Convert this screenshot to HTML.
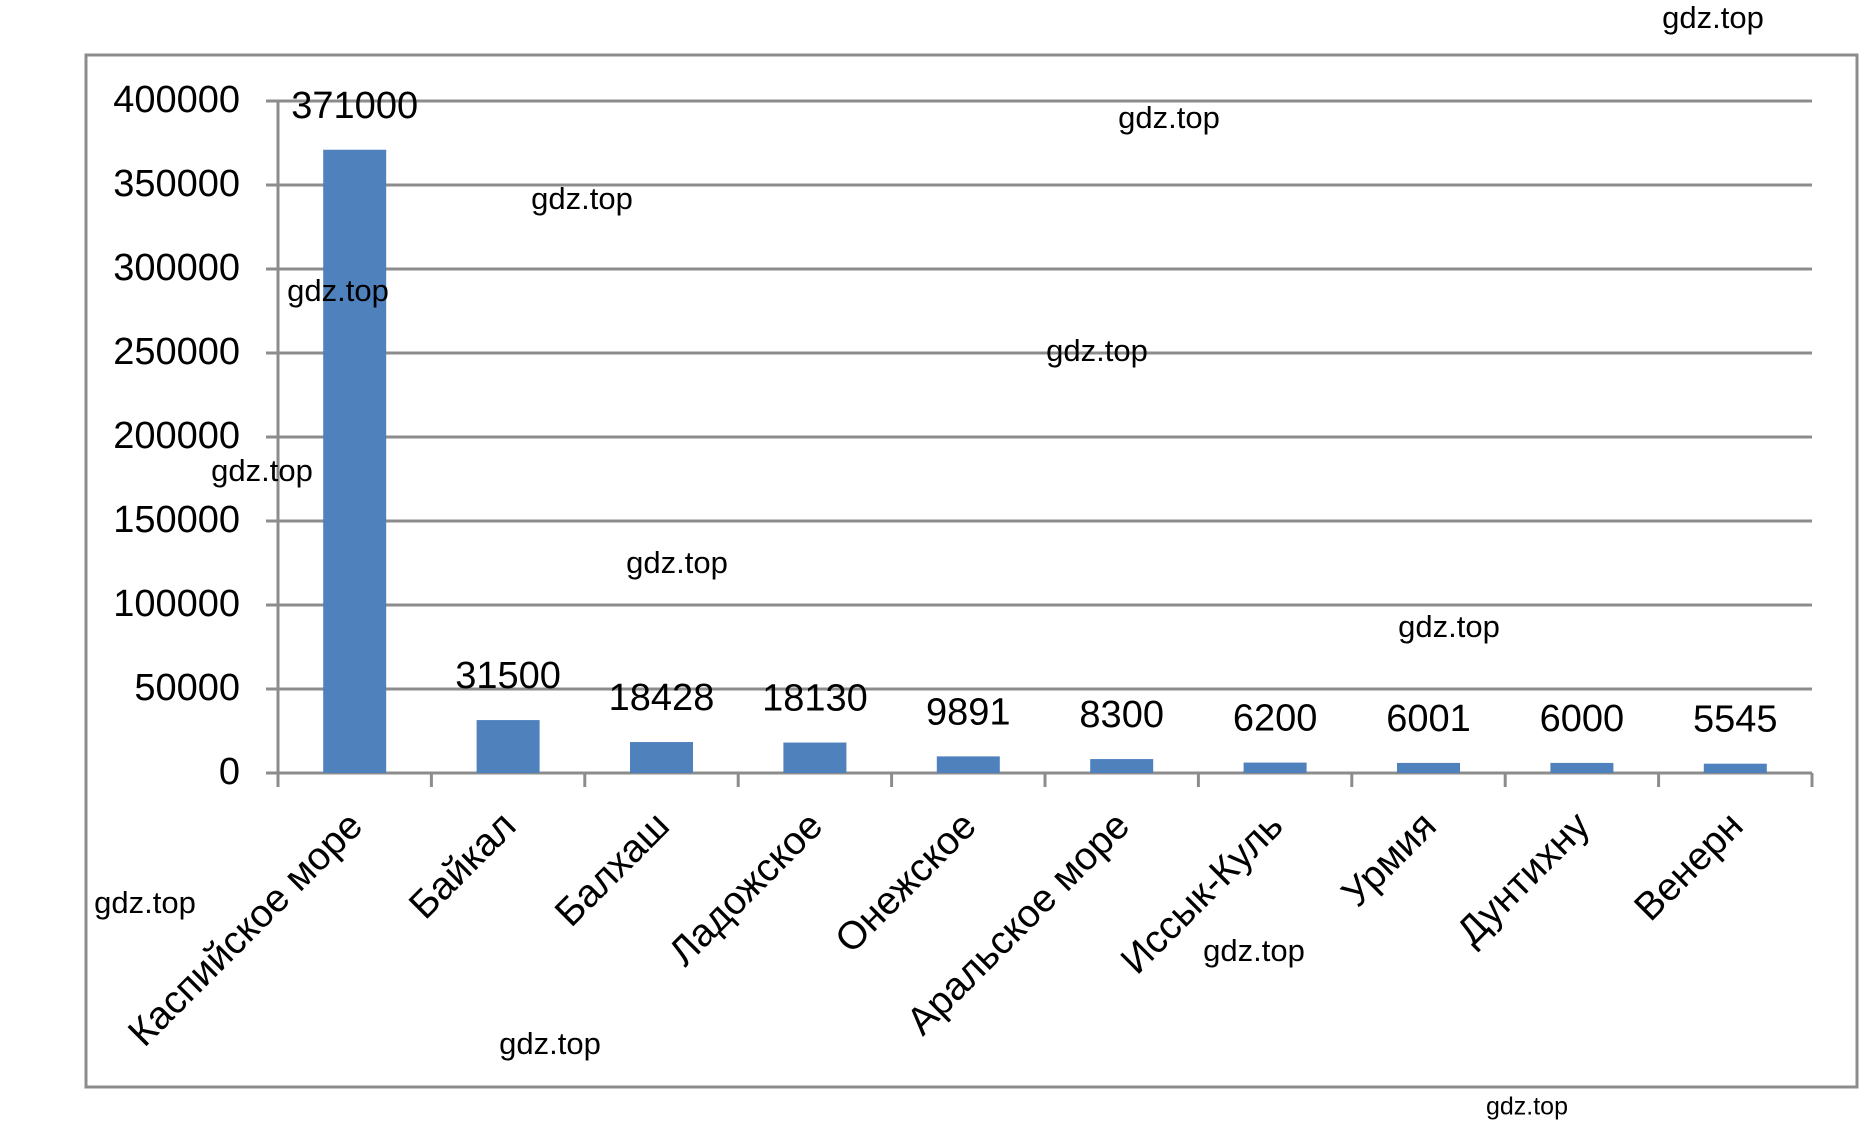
<!DOCTYPE html>
<html><head><meta charset="utf-8"><style>
body{margin:0;background:#fff;}
svg text{font-family:"Liberation Sans","DejaVu Sans",sans-serif;}
</style></head><body>
<svg id="chart" width="1865" height="1133" viewBox="0 0 1865 1133" xmlns="http://www.w3.org/2000/svg">
<rect x="86" y="55" width="1771" height="1032" fill="#fff" stroke="#8c8c8c" stroke-width="3"/>
<g id="grid"></g><g id="bars"></g><g id="labels"></g><g id="wm"></g>
</svg>
<script>
const categories=["Каспийское море","Байкал","Балхаш","Ладожское","Онежское","Аральское море","Иссык-Куль","Урмия","Дунтихну","Венерн"];
const values=[371000,31500,18428,18130,9891,8300,6200,6001,6000,5545];
const yTicks=[0,50000,100000,150000,200000,250000,300000,350000,400000];
const NS="http://www.w3.org/2000/svg";
const x0=278,x1=1812,yBase=773,yTop=101,yMax=400000;
const bw=(x1-x0)/categories.length;
function y(v){return yBase-(v/yMax)*(yBase-yTop);}
function xc(i){return x0+bw*(i+0.5);}
function mk(tag,attrs,parent){const e=document.createElementNS(NS,tag);for(const k in attrs)e.setAttribute(k,attrs[k]);parent.appendChild(e);return e;}
const grid=document.getElementById('grid'),bars=document.getElementById('bars'),labels=document.getElementById('labels'),wm=document.getElementById('wm');
yTicks.forEach(t=>{
  const l=mk('line',{x1:x0-12,x2:x1,y1:y(t),y2:y(t),stroke:'#8c8c8c','stroke-width':3},grid);
  
  
  const tx=mk('text',{x:240,y:y(t)+1,'text-anchor':'end','dominant-baseline':'middle','font-size':38,fill:'#000'},grid);
  tx.textContent=t;
  
  
});
const ax=mk('line',{x1:x0,x2:x0,y1:yTop,y2:yBase,stroke:'#8c8c8c','stroke-width':3},grid);


for(let i=0;i<=categories.length;i++){
  const tk=mk('line',{x1:x0+bw*i,x2:x0+bw*i,y1:yBase,y2:yBase+14,stroke:'#8c8c8c','stroke-width':3},grid);
  
  
}
values.forEach((v,i)=>{
  const r=mk('rect',{x:xc(i)-31.5,y:y(v),width:63,height:yBase-y(v),fill:'#4f81bd'},bars);
  
  
  const t=mk('text',{x:xc(i),y:y(v)-42,'text-anchor':'middle','dominant-baseline':'middle','font-size':38,fill:'#000'},labels);
  t.textContent=v;
  
  
  const c=mk('text',{x:0,y:0,'text-anchor':'end','font-size':39,fill:'#000',transform:`translate(${xc(i)+10},${828}) rotate(-45)`},labels);
  c.textContent=categories[i];
  
  
});
const xa=mk('line',{x1:x0,x2:x1,y1:yBase,y2:yBase,stroke:'#8c8c8c','stroke-width':3},grid);


[[1713,20,31],[1169,120,31],[582,201,31],[338,293,31],[1097,353,31],[262,473,31],[677,565,31],[1449,629,31],[145,905,31],[1254,953,31],[550,1046,31],[1527,1108,25]].forEach(w=>{
  const t=mk('text',{x:w[0],y:w[1],'text-anchor':'middle','dominant-baseline':'middle','font-size':w[2],fill:'#000'},wm);
  t.textContent='gdz.top';
  
  
});
</script>
</body></html>
